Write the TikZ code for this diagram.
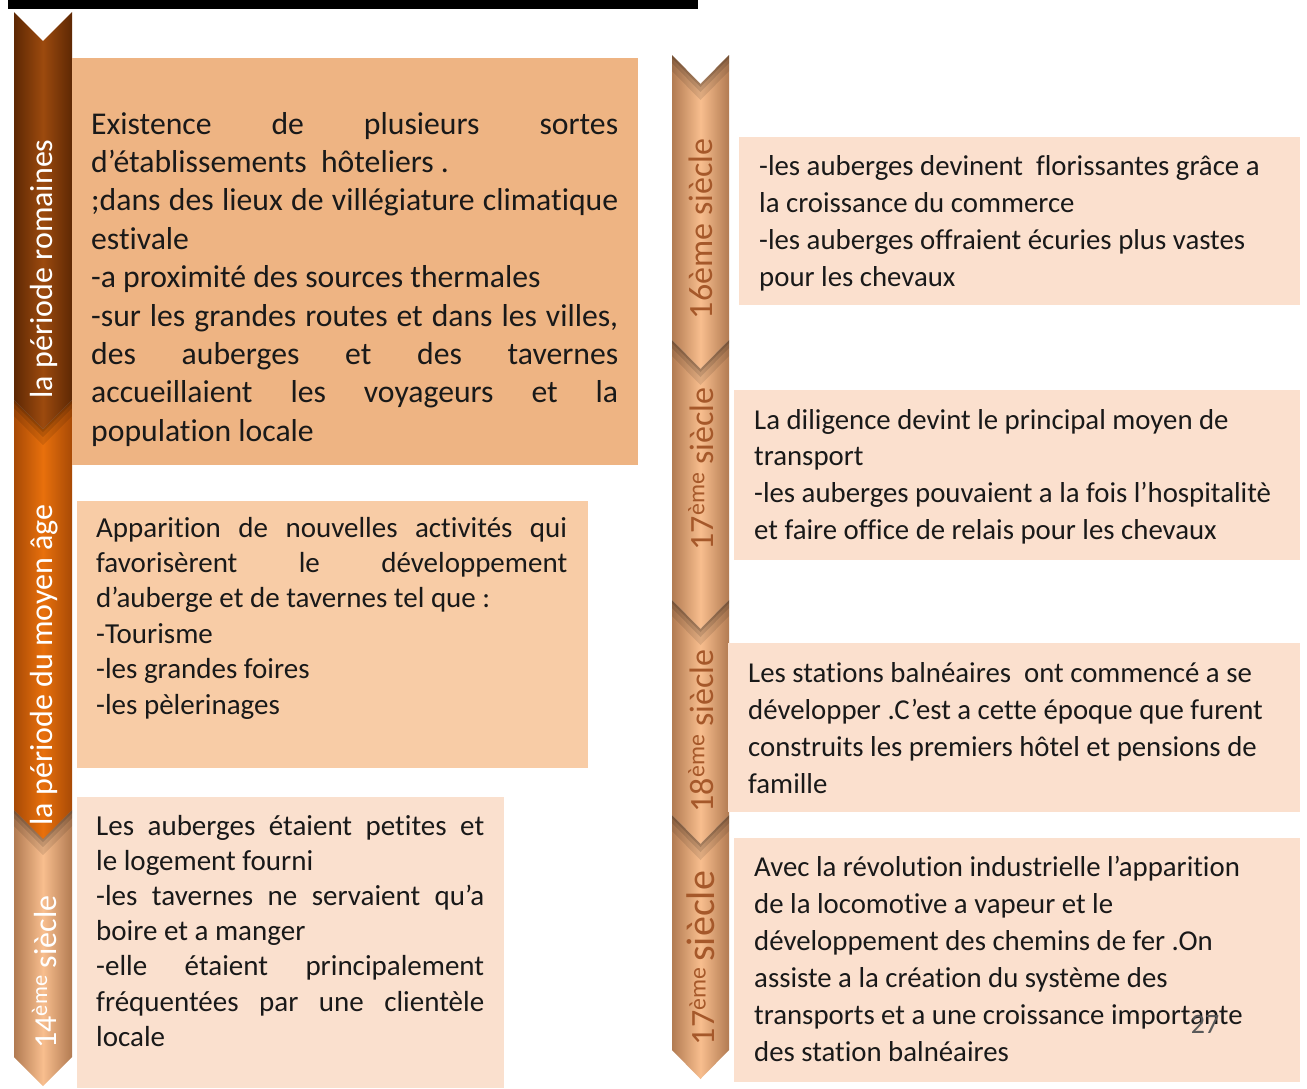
\documentclass[tikz,border=0pt]{standalone}
\usepackage{fontspec}
\setmainfont{Carlito}[Ligatures={NoCommon,TeX}]
\definecolor{boxA}{HTML}{EEB483}
\definecolor{boxB}{HTML}{F8CCA6}
\definecolor{boxC}{HTML}{FAE0CE}
\definecolor{boxR}{HTML}{FBE0CE}
\definecolor{darkC}{HTML}{9C4A0E}
\definecolor{darkE}{HTML}{5E2804}
\definecolor{oraC}{HTML}{E8700C}
\definecolor{oraE}{HTML}{A84A06}
\definecolor{lightC}{HTML}{F8BE8E}
\definecolor{lightE}{HTML}{B27B52}
\definecolor{labbrown}{HTML}{A5582A}
\definecolor{pagegray}{HTML}{595959}
\newcommand\chevpath[4]{(#1,#3) -- ({(#1+#2)/2},{#3+29}) -- (#2,#3) -- (#2,#4) -- ({(#1+#2)/2},{#4+29}) -- (#1,#4) -- cycle}
\newcommand\vband[4]{(#1,#3) -- ({(#1+#2)/2},{#3+29}) -- (#2,#3) -- (#2,{#3+#4}) -- ({(#1+#2)/2},{#3+29+#4}) -- (#1,{#3+#4}) -- cycle}
\newcommand\vshadow[3]{%
  \fill[black, opacity=0.10] \vband{#1}{#2}{#3}{16};
  \fill[black, opacity=0.12] \vband{#1}{#2}{#3}{8};
  \fill[black, opacity=0.15] \vband{#1}{#2}{#3}{3};
}
\newcommand\jline[2]{\makebox[#1pt][s]{#2}}
\tikzset{
  txt/.style={anchor=base west, inner sep=0pt, text=black!90},
  lab/.style={rotate=90, inner sep=0pt},
}
\begin{document}
\begin{tikzpicture}[x=1pt,y=-1pt]
\useasboundingbox (0,0) rectangle (1307,1088);
% top rule
\fill[black] (8,0) rectangle (698,9);

% left chevrons
\shade[left color=lightE, right color=lightE, middle color=lightC] \chevpath{14}{72}{810}{1057};
\shade[left color=oraE, right color=oraE, middle color=oraC] \chevpath{14}{72}{400}{810};
\shade[left color=darkE, right color=darkE, middle color=darkC] \chevpath{14}{72}{12}{400};
\vshadow{14}{72}{400}
\vshadow{14}{72}{810}

% right chevrons
\shade[left color=lightE, right color=lightE, middle color=lightC] \chevpath{672}{729}{815}{1050};
\shade[left color=lightE, right color=lightE, middle color=lightC] \chevpath{672}{729}{600}{815};
\shade[left color=lightE, right color=lightE, middle color=lightC] \chevpath{672}{729}{340}{600};
\shade[left color=lightE, right color=lightE, middle color=lightC] \chevpath{672}{729}{55}{340};
\vshadow{672}{729}{55}
\vshadow{672}{729}{340}
\vshadow{672}{729}{600}
\vshadow{672}{729}{815}

% labels
\node[lab, text=white, font=\fontsize{32}{32}\selectfont] (l1) at (44,269) {la période romaines};
\node[lab, text=white, font=\fontsize{32}{32}\selectfont] (l2) at (44,665) {la période du moyen âge};
\node[lab, text=white, font=\fontsize{32}{32}\selectfont] (l3) at (44,972) {14\textsuperscript{ème} siècle};
\node[lab, text=labbrown, font=\fontsize{34}{34}\selectfont] (r1) at (701,229) {16ème siècle};
\node[lab, text=labbrown, font=\fontsize{34}{34}\selectfont] (r2) at (701,469) {17\textsuperscript{ème} siècle};
\node[lab, text=labbrown, font=\fontsize{34}{34}\selectfont] (r3) at (701,731) {18\textsuperscript{ème} siècle};
\node[lab, text=labbrown, font=\fontsize{34}{34}\selectfont] (r4) at (701,958) {17\textsuperscript{ème}\,{\fontsize{40}{40}\selectfont siècle}};

% boxes
\fill[boxA] (72,58) rectangle (638,465);
\fill[boxB] (77,501) rectangle (588,768);
\fill[boxC] (77,797) rectangle (504,1088);
\fill[boxR] (739,137) rectangle (1300,305);
\fill[boxR] (734,390) rectangle (1300,560);
\fill[boxR] (728,643) rectangle (1300,812);
\fill[boxR] (734,838) rectangle (1300,1082);

% texts
\node[txt] (tA) at (91,134) {\parbox[t]{527pt}{\fontsize{31.7}{38.4}\selectfont
\jline{527}{Existence de plusieurs sortes}\\
d’établissements\ \ hôteliers .\\
\jline{527}{;dans des lieux de villégiature climatique}\\
estivale\\
-a proximité des sources thermales\\
\jline{527}{-sur les grandes routes et dans les villes,}\\
\jline{527}{des auberges et des tavernes}\\
\jline{527}{accueillaient les voyageurs et la}\\
population locale}};

\node[txt] (tB) at (96,537) {\parbox[t]{471pt}{\fontsize{29}{35.4}\selectfont
\jline{471}{Apparition de nouvelles activités qui}\\
\jline{471}{favorisèrent le développement}\\
d’auberge et de tavernes tel que :\\
-Tourisme\\
-les grandes foires\\
-les pèlerinages}};

\node[txt] (tC) at (96,835) {\parbox[t]{388pt}{\fontsize{29}{35.2}\selectfont
\jline{388}{Les auberges étaient petites et}\\
le logement fourni\\
\jline{388}{-les tavernes ne servaient qu’a}\\
boire et a manger\\
\jline{388}{-elle étaient principalement}\\
\jline{388}{fréquentées par une clientèle}\\
locale}};

\node[txt] (tD) at (759,175) {\parbox[t]{530pt}{\fontsize{28.8}{37}\selectfont
-les auberges devinent\ \ florissantes grâce a\\
la croissance du commerce\\
-les auberges offraient écuries plus vastes\\
pour les chevaux}};

\node[txt] (tE) at (754,429) {\parbox[t]{540pt}{\fontsize{28.8}{36.7}\selectfont
La diligence devint le principal moyen de\\
transport\\
-les auberges pouvaient a la fois l’hospitalitè\\
et faire office de relais pour les chevaux}};

\node[txt] (tF) at (748,682) {\parbox[t]{545pt}{\fontsize{28.8}{37}\selectfont
Les stations balnéaires\ \ ont commencé a se\\
développer .C’est a cette époque que furent\\
construits les premiers hôtel et pensions de\\
famille}};

\node[txt] (tG) at (754,876) {\parbox[t]{540pt}{\fontsize{28.8}{37}\selectfont
Avec la révolution industrielle l’apparition\\
de la locomotive a vapeur et le\\
développement des chemins de fer .On\\
assiste a la création du système des\\
transports et a une croissance importante\\
des station balnéaires}};

\node[text=pagegray, font=\fontsize{28}{28}\selectfont, inner sep=0pt] (pg) at (1205,1024) {27};
\end{tikzpicture}
\end{document}
